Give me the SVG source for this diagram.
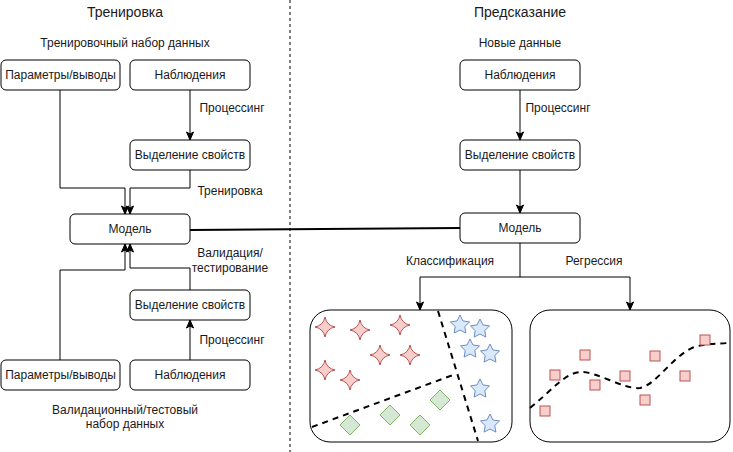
<svg xmlns="http://www.w3.org/2000/svg" width="733" height="452" viewBox="0 0 733 452">
<defs>
<style>
.box{fill:#fff;stroke:#000;stroke-width:1}
.t{font-family:"Liberation Sans",Arial,sans-serif;font-size:12px;fill:#1a1a1a;text-anchor:middle}
.title{font-family:"Liberation Sans",Arial,sans-serif;font-size:14px;fill:#1a1a1a;text-anchor:middle}
.c{fill:none;stroke:#000;stroke-width:1}
.dash{fill:none;stroke:#000;stroke-width:2;stroke-dasharray:6 5}
.red{fill:#f8cecc;stroke:#b85450;stroke-width:1}
.blue{fill:#dae8fc;stroke:#6c8ebf;stroke-width:1}
.green{fill:#d5e8d4;stroke:#82b366;stroke-width:1}
</style>
<marker id="arr" markerUnits="userSpaceOnUse" markerWidth="10" markerHeight="10" viewBox="0 0 10 10" refX="9" refY="5" orient="auto">
<path d="M1,1.5 L9,5 L1,8.5 L3,5 Z" fill="#000" stroke="#000" stroke-width="1"/>
</marker>
<path id="spark" d="M0,-10 Q1.6,-1.6 10,0 Q1.6,1.6 0,10 Q-1.6,1.6 -10,0 Q-1.6,-1.6 0,-10 Z"/>
<path id="star" d="M0,-10 L2.94,-4.05 L9.51,-3.09 L4.76,1.55 L5.88,8.09 L0,5 L-5.88,8.09 L-4.76,1.55 L-9.51,-3.09 L-2.94,-4.05 Z"/>
<path id="dia" d="M0,-10 L10,0 L0,10 L-10,0 Z"/>
</defs>
<rect width="733" height="452" fill="#fff"/>

<line x1="290" y1="0" x2="290" y2="452" stroke="#000" stroke-width="1" stroke-dasharray="3 3"/>

<g id="labels">
<text class="title" x="125" y="17">Тренировка</text>
<text class="t" x="125" y="47">Тренировочный набор данных</text>
<text class="title" x="520" y="17">Предсказание</text>
<text class="t" x="520" y="47">Новые данные</text>
<text class="t" x="232" y="112">Процессинг</text>
<text class="t" x="230" y="195">Тренировка</text>
<text class="t" x="230" y="257">Валидация/</text>
<text class="t" x="230" y="272">тестирование</text>
<text class="t" x="232" y="344">Процессинг</text>
<text class="t" x="125" y="414">Валидационный/тестовый</text>
<text class="t" x="125" y="428">набор данных</text>
<text class="t" x="558" y="112">Процессинг</text>
<text class="t" x="450" y="265">Классификация</text>
<text class="t" x="594" y="265">Регрессия</text>
</g>

<g id="connectors">
<path class="c" d="M190,90 V140" marker-end="url(#arr)"/>
<path class="c" d="M60,90 V188 H125 V214" marker-end="url(#arr)"/>
<path class="c" d="M190,170 V188 H130 V214" marker-end="url(#arr)"/>
<path class="c" d="M60,360 V270 H125 V244" marker-end="url(#arr)"/>
<path class="c" d="M190,290 V268 H130 V244" marker-end="url(#arr)"/>
<path class="c" d="M190,360 V320" marker-end="url(#arr)"/>
<path class="c" d="M520,90 V140" marker-end="url(#arr)"/>
<path class="c" d="M520,170 V213" marker-end="url(#arr)"/>
<path fill="none" stroke="#000" stroke-width="2" d="M190,230 L460,228"/>
<path class="c" d="M520,243 V277 H420 V310" marker-end="url(#arr)"/>
<path class="c" d="M520,277 H630 V310" marker-end="url(#arr)"/>
</g>

<g id="n-params-train"><rect class="box" x="1" y="60" width="119" height="30" rx="5"/><text class="t" x="60.5" y="79">Параметры/выводы</text></g>
<g id="n-obs-train"><rect class="box" x="130" y="60" width="120" height="30" rx="5"/><text class="t" x="190" y="79">Наблюдения</text></g>
<g id="n-feat-train"><rect class="box" x="130" y="140" width="120" height="30" rx="5"/><text class="t" x="190" y="159">Выделение свойств</text></g>
<g id="n-model-left"><rect class="box" x="70" y="214" width="120" height="30" rx="5"/><text class="t" x="130" y="233">Модель</text></g>
<g id="n-feat-val"><rect class="box" x="130" y="290" width="120" height="30" rx="5"/><text class="t" x="190" y="309">Выделение свойств</text></g>
<g id="n-params-val"><rect class="box" x="1" y="360" width="119" height="30" rx="5"/><text class="t" x="60.5" y="379">Параметры/выводы</text></g>
<g id="n-obs-val"><rect class="box" x="130" y="360" width="120" height="30" rx="5"/><text class="t" x="190" y="379">Наблюдения</text></g>
<g id="n-obs-pred"><rect class="box" x="460" y="60" width="120" height="30" rx="5"/><text class="t" x="520" y="79">Наблюдения</text></g>
<g id="n-feat-pred"><rect class="box" x="460" y="140" width="120" height="30" rx="5"/><text class="t" x="520" y="159">Выделение свойств</text></g>
<g id="n-model-right"><rect class="box" x="460" y="213" width="120" height="30" rx="5"/><text class="t" x="520" y="232">Модель</text></g>

<g id="n-classification">
<rect class="box" x="310" y="310" width="202" height="132" rx="20"/>
<path class="dash" d="M438,311 L478,441"/>
<path class="dash" d="M312,427 L453,375"/>
<use href="#spark" class="red" x="325" y="327"/>
<use href="#spark" class="red" x="360" y="330"/>
<use href="#spark" class="red" x="400" y="325"/>
<use href="#spark" class="red" x="380" y="355"/>
<use href="#spark" class="red" x="410" y="355"/>
<use href="#spark" class="red" x="325" y="370"/>
<use href="#spark" class="red" x="350" y="380"/>
<use href="#star" class="blue" x="460" y="325"/>
<use href="#star" class="blue" x="480" y="329"/>
<use href="#star" class="blue" x="470" y="349"/>
<use href="#star" class="blue" x="490" y="354"/>
<use href="#star" class="blue" x="480" y="389"/>
<use href="#star" class="blue" x="490" y="424"/>
<use href="#dia" class="green" x="440" y="400"/>
<use href="#dia" class="green" x="390" y="415"/>
<use href="#dia" class="green" x="350" y="425"/>
<use href="#dia" class="green" x="420" y="425"/>
</g>

<g id="n-regression">
<rect class="box" x="530" y="310" width="200" height="132" rx="20"/>
<path class="dash" d="M530,408 C550,392 565,373 580,372 C596,371 625,390 640,388 C656,385 672,357 692,348 C705,343 716,344 728,343"/>
<g class="red">
<rect x="540" y="406" width="10" height="10"/>
<rect x="550" y="370" width="10" height="10"/>
<rect x="580" y="350" width="10" height="10"/>
<rect x="590" y="380" width="10" height="10"/>
<rect x="620" y="371" width="10" height="10"/>
<rect x="640" y="395" width="10" height="10"/>
<rect x="650" y="351" width="10" height="10"/>
<rect x="680" y="371" width="10" height="10"/>
<rect x="700" y="335" width="10" height="10"/>
</g>
</g>
</svg>
